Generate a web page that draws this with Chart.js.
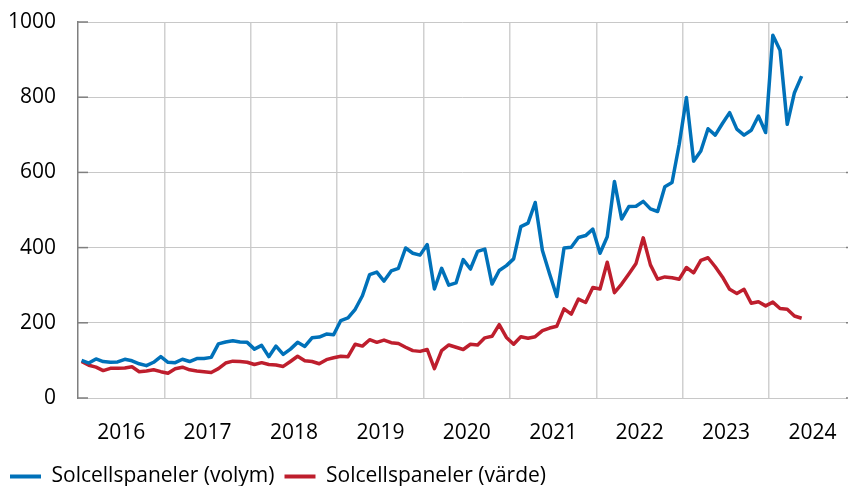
<!DOCTYPE html>
<html>
<head>
<meta charset="utf-8">
<script src="https://cdn.jsdelivr.net/npm/chart.js@4.4.1/dist/chart.umd.min.js"></script>
<style>
  html, body { margin: 0; padding: 0; background: #fff; }
</style>
</head>
<body>
<canvas id="myChart" width="848" height="486"></canvas>
<script>
// monthly series, Jan 2016 - May 2024
var firstYear = 2016;
var years = ['2016', '2017', '2018', '2019', '2020', '2021', '2022', '2023', '2024'];
var yTicks = [0, 200, 400, 600, 800, 1000];

var volym = [
    100, 93, 104, 97, 95, 96, 103, 99, 91, 86, 95, 110,
    95, 94, 103, 97, 105, 105, 108, 144, 149, 152, 149, 148,
    130, 140, 110, 138, 116, 130, 148, 137, 160, 162, 170, 168,
    206, 213, 236, 272, 328, 335, 311, 338, 345, 399, 385, 380,
    408, 290, 345, 300, 306, 368, 343, 390, 396, 303, 339, 352,
    370, 456, 465, 520, 392, 330, 270, 399, 401, 427, 432, 449,
    385, 429, 576, 476, 509, 510, 523, 503, 496, 562, 573, 675,
    799, 630, 657, 716, 699, 730, 759, 715, 699, 712, 750, 706,
    965, 925, 728, 812, 856
];

var varde = [
    97, 87, 82, 73, 79, 79, 80, 83, 70, 72, 75, 70,
    66, 78, 82, 75, 72, 70, 68, 78, 93, 98, 97, 95,
    89, 94, 89, 88, 84, 97, 111, 99, 97, 91, 102, 107,
    111, 110, 143, 138, 155, 148, 154, 147, 145, 135, 126, 124,
    129, 78, 126, 141, 135, 129, 143, 141, 160, 164, 195, 161,
    143, 163, 159, 163, 179, 186, 191, 237, 223, 263, 254, 294,
    290, 361, 280, 303, 330, 358, 426, 354, 316, 322, 320, 316,
    347, 333, 366, 373, 349, 322, 289, 278, 289, 252, 256, 245,
    255, 238, 236, 218, 212
];

var FONT = '"Open Sans", "Liberation Sans", sans-serif';
var FSIZE = 21;

// x is months since Jan 2016, each point sits mid-month
function toPoints(arr) {
    return arr.map(function(v, i) { return {x: i + 0.5, y: v}; });
}

// short dark ticks pointing into the plot, like the original
var innerTicks = {
    id: 'innerTicks',
    afterDraw: function(chart) {
        var y = chart.scales.y;
        var area = chart.chartArea;
        var c = chart.ctx;
        c.save();
        c.strokeStyle = '#7f7f7f';
        c.lineWidth = 1.5;
        y.ticks.forEach(function(t) {
            var py = y.getPixelForValue(t.value);
            c.beginPath();
            c.moveTo(area.left, py);
            c.lineTo(area.left + 10, py);
            c.stroke();
            c.beginPath();
            c.moveTo(area.right - 1, py);
            c.lineTo(area.right + 1, py);
            c.stroke();
        });
        c.restore();
    }
};

(function() {
    var ctx = document.getElementById('myChart').getContext('2d');
    new Chart(ctx, {
        type: 'line',
        data: {
            datasets: [{
                label: 'Solcellspaneler (volym)',
                data: toPoints(volym),
                borderColor: '#0071b9',
                backgroundColor: '#0071b9',
                borderWidth: 3.5,
                borderJoinStyle: 'round',
                pointRadius: 0,
                tension: 0
            }, {
                label: 'Solcellspaneler (värde)',
                data: toPoints(varde),
                borderColor: '#be1e2d',
                backgroundColor: '#be1e2d',
                borderWidth: 3.5,
                borderJoinStyle: 'round',
                pointRadius: 0,
                tension: 0
            }]
        },
        options: {
            responsive: false,
            animation: false,
            layout: { padding: { top: 22, right: 1, bottom: -11, left: 0 } },
            plugins: {
                legend: {
                    position: 'bottom',
                    align: 'start',
                    labels: {
                        boxWidth: 31,
                        boxHeight: 4,
                        padding: 10,
                        color: '#000',
                        font: { family: FONT, size: FSIZE },
                        generateLabels: function(chart) {
                            return Chart.defaults.plugins.legend.labels.generateLabels(chart).map(function(l) {
                                l.lineWidth = 0;
                                return l;
                            });
                        }
                    }
                },
                tooltip: { enabled: false }
            },
            scales: {
                x: {
                    type: 'linear',
                    min: 0,
                    max: 106.8,
                    afterBuildTicks: function(s) {
                        var t = [];
                        for (var m = 0; m <= years.length * 12 - 6; m += 6) t.push({value: m});
                        s.ticks = t;
                    },
                    afterFit: function(s) { s.height = 58; },
                    ticks: {
                        autoSkip: false,
                        maxRotation: 0,
                        padding: 0,
                        color: '#000',
                        font: { family: FONT, size: FSIZE },
                        callback: function(v) {
                            return v % 12 === 6 ? years[(v - 6) / 12] : '';
                        }
                    },
                    grid: {
                        drawTicks: true,
                        tickLength: 22,
                        tickColor: 'rgba(0,0,0,0)',
                        lineWidth: 1.5,
                        color: function(c) {
                            return (c.tick && c.tick.value > 0 && c.tick.value % 12 === 0) ? '#d0d0d0' : 'rgba(0,0,0,0)';
                        }
                    },
                    border: { display: false }
                },
                y: {
                    min: 0,
                    max: 1000,
                    afterBuildTicks: function(s) {
                        s.ticks = yTicks.map(function(v) { return {value: v}; });
                    },
                    afterFit: function(s) { s.width = 78; },
                    ticks: {
                        padding: 0,
                        color: '#000',
                        font: { family: FONT, size: FSIZE },
                        callback: function(v) { return String(v); }
                    },
                    grid: {
                        drawTicks: true,
                        tickLength: 22,
                        tickColor: 'rgba(0,0,0,0)',
                        color: '#c8c8c8',
                        lineWidth: 1
                    },
                    border: { color: '#7f7f7f', width: 1.5 }
                }
            }
        },
        plugins: [innerTicks]
    });
})();
</script>
</body>
</html>
